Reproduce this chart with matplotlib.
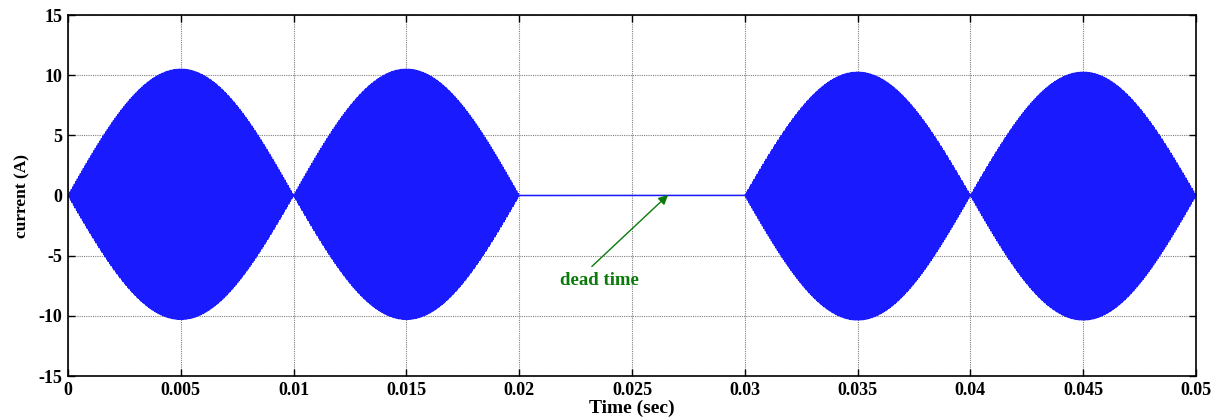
import numpy as np
import matplotlib
matplotlib.use('Agg')
import matplotlib.pyplot as plt

# conduction intervals (s) and envelope peaks (A) of the inverter current
seg_start = [0.0, 0.01, 0.03, 0.04]
seg_end = [0.01, 0.02, 0.04, 0.05]
seg_peak_pos = [10.5, 10.5, 10.25, 10.25]
seg_peak_neg = [-10.3, -10.3, -10.35, -10.35]
carrier_hz = 15000.0   # switching frequency
xticks = [0, 0.005, 0.01, 0.015, 0.02, 0.025, 0.03, 0.035, 0.04, 0.045, 0.05]
xtick_labels = ['0', '0.005', '0.01', '0.015', '0.02', '0.025', '0.03', '0.035', '0.04', '0.045', '0.05']
yticks = [-15, -10, -5, 0, 5, 10, 15]

plt.rcParams['font.family'] = ['Liberation Serif', 'DejaVu Serif']
plt.rcParams['font.weight'] = 'bold'
plt.rcParams['axes.unicode_minus'] = False

t = np.linspace(0, 0.05, 40001)
i_load = np.zeros_like(t)
for a, b, pp, pn in zip(seg_start, seg_end, seg_peak_pos, seg_peak_neg):
    m = (t >= a) & (t <= b)
    env = np.abs(np.sin(np.pi * (t[m] - a) / (b - a)))
    c = np.sin(2 * np.pi * carrier_hz * t[m])
    i_load[m] = np.where(c >= 0, pp * env * c, -pn * env * c)

fig = plt.figure(figsize=(12.25, 4.19), dpi=100)
ax = fig.add_axes([68 / 1225, 43 / 419, 1128 / 1225, 361 / 419])
ax.set_axisbelow(True)
ax.plot(t, i_load, color='#1a1aff', lw=1.1, zorder=3)

ax.set_xlim(0, 0.05)
ax.set_ylim(-15, 15)
ax.set_xticks(xticks)
ax.set_xticklabels(xtick_labels)
ax.set_yticks(yticks)
ax.grid(True, color='0.5', ls=(0, (1, 1)), lw=0.8, zorder=0)
ax.tick_params(direction='in', top=True, right=True, labelsize=13, width=1, length=5, pad=4)
for s in ax.spines.values():
    s.set_linewidth(1.2)
    s.set_zorder(4)
for lab in ax.get_xticklabels() + ax.get_yticklabels():
    lab.set_fontweight('bold')

ax.set_xlabel('Time (sec)', fontsize=14, fontweight='bold', labelpad=1)
ax.set_ylabel('current (A)', fontsize=12.5, fontweight='bold', labelpad=6)

# arrow pointing at the zero-current interval
ax.annotate('', xy=(0.0266, 0.05), xytext=(0.02322, -5.9),
            arrowprops=dict(arrowstyle='-|>', color='#0a7a0a', lw=1, shrinkA=0, shrinkB=0,
                            mutation_scale=14))
ax.text(0.02354, -7.1, 'dead time', color='#0a7a0a', fontsize=13.5, fontweight='bold',
        ha='center', va='center')

fig.savefig('out.png', dpi=100)
